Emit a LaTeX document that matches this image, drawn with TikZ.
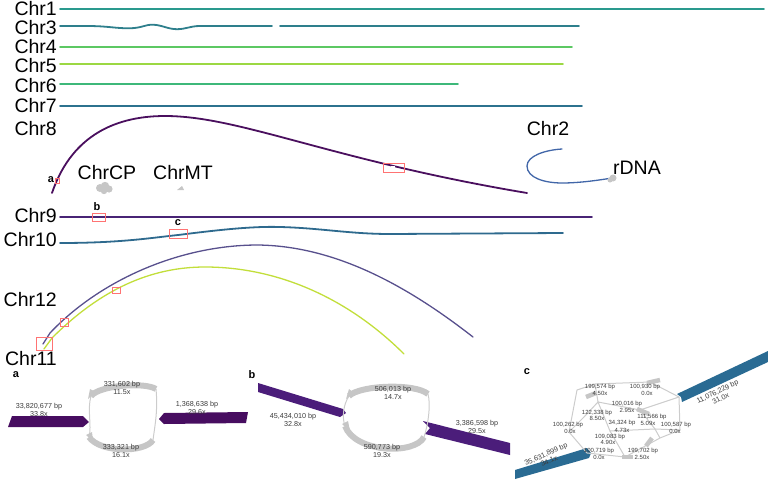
\documentclass[tikz,border=0pt]{standalone}
\usepackage{fontspec}
\setmainfont{Liberation Sans}
\definecolor{cOne}{HTML}{2A9A8E}
\definecolor{cThree}{HTML}{2E7F8C}
\definecolor{cFour}{HTML}{5CC863}
\definecolor{cFive}{HTML}{9CD843}
\definecolor{cSix}{HTML}{3DB87A}
\definecolor{cSeven}{HTML}{2C728E}
\definecolor{cEight}{HTML}{4A0F5E}
\definecolor{cNine}{HTML}{482475}
\definecolor{cTen}{HTML}{2E6A8E}
\definecolor{cTwo}{HTML}{4166A8}
\definecolor{cTwelve}{HTML}{58508D}
\definecolor{cEleven}{HTML}{C2DE3A}
\definecolor{bandA}{HTML}{470D60}
\definecolor{bandB}{HTML}{4B1D7A}
\definecolor{bandC}{HTML}{2A6B93}
\definecolor{gArc}{HTML}{C6C6C6}
\definecolor{gLine}{HTML}{CCCCCC}
\definecolor{infoText}{HTML}{3C3C3C}
\begin{document}
\begin{tikzpicture}[x=1pt,y=-1pt,
  chrlab/.style={anchor=east,inner sep=0pt,font=\fontsize{19.5}{19.5}\selectfont},
  biglab/.style={inner sep=0pt,font=\fontsize{19.5}{19.5}\selectfont},
  chrline/.style={line width=1.8pt,line cap=round},
  thinchr/.style={line width=1.3pt,line cap=round},
  redbox/.style={draw=red!55,line width=0.6pt},
  letter/.style={inner sep=0pt,font=\bfseries\fontsize{11}{11}\selectfont},
  info/.style={inner sep=0pt,align=center,text=infoText,font=\fontsize{7.2}{7.6}\selectfont},
  tinfo/.style={inner sep=0pt,text=infoText,font=\fontsize{6}{6}\selectfont},
  garc/.style={draw=gArc,line width=6pt},
  gstub/.style={draw=gArc,line width=4.5pt},
  gthin/.style={draw=gLine,line width=1pt},
  gblob/.style={fill=gray!45,draw=none}]
\useasboundingbox (0,0) rectangle (768,482);

% ---------- labels ----------
\node[chrlab] (l1) at (57,9) {Chr1};
\node[chrlab] (l3) at (57,28) {Chr3};
\node[chrlab] (l4) at (57,47) {Chr4};
\node[chrlab] (l5) at (57,66) {Chr5};
\node[chrlab] (l6) at (57,86) {Chr6};
\node[chrlab] (l7) at (57,106) {Chr7};
\node[chrlab] (l8) at (57,129) {Chr8};
\node[chrlab] (l9) at (57,216) {Chr9};
\node[chrlab] (l10) at (57,240) {Chr10};
\node[chrlab] (l12) at (57,300) {Chr12};
\node[chrlab] (l11) at (57,359) {Chr11};
\node[biglab] (lcp) at (107,173) {ChrCP};
\node[biglab] (lmt) at (183,173) {ChrMT};
\node[biglab] (l2) at (548,129) {Chr2};
\node[biglab] (lr) at (637,168) {rDNA};

% ---------- chromosome lines ----------
\coordinate (c1a) at (60,9);   \coordinate (c1b) at (764,9);
\draw[chrline,cOne] (c1a) -- (c1b);
\coordinate (c3a) at (60,26);  \coordinate (c3b) at (272,26);
\coordinate (c3c) at (280,26); \coordinate (c3d) at (579,26);
\draw[chrline,cThree] (c3a) -- (87,26) .. controls (108,26) and (116,28.5) .. (130,28.3)
  .. controls (142,28) and (145,24.5) .. (153,24.7) .. controls (162,25) and (168,29.2) .. (177,29.2)
  .. controls (186,29.2) and (190,26) .. (200,26) -- (c3b);
\draw[chrline,cThree] (c3c) -- (c3d);
\coordinate (c4a) at (60,47);  \coordinate (c4b) at (572,47);
\draw[chrline,cFour] (c4a) -- (c4b);
\coordinate (c5a) at (60,64);  \coordinate (c5b) at (563,64);
\draw[chrline,cFive] (c5a) -- (c5b);
\coordinate (c6a) at (60,84);  \coordinate (c6b) at (458,84);
\draw[chrline,cSix] (c6a) -- (c6b);
\coordinate (c7a) at (60,106); \coordinate (c7b) at (582,106);
\draw[chrline,cSeven] (c7a) -- (c7b);
\coordinate (c8a) at (52,193); \coordinate (c8b) at (527,193);
\draw[chrline,cEight] (c8a) .. controls (70,140) and (110,116) .. (165,116)
  .. controls (240,116) and (330,160) .. (c8b);
\coordinate (c9a) at (60,217); \coordinate (c9b) at (592,217);
\draw[chrline,cNine] (c9a) -- (c9b);
\coordinate (c10a) at (60,243); \coordinate (c10b) at (563,233);
\draw[chrline,cTen] (c10a) .. controls (120,243) and (150,238) .. (178,235)
  .. controls (210,231) and (250,226) .. (280,227) .. controls (320,228) and (350,234) .. (390,234) -- (c10b);
\coordinate (c2a) at (562,149); \coordinate (c2b) at (612,178);
\draw[thinchr,cTwo] (c2a) .. controls (545,150) and (527,156) .. (527,166)
  .. controls (527,178) and (545,183) .. (562,183) .. controls (580,183) and (600,180) .. (c2b);
\coordinate (c12a) at (43,344); \coordinate (c12b) at (473,337);
\draw[thinchr,cTwelve] (c12a) -- (50,333) .. controls (100,280) and (180,245) .. (258,245)
  .. controls (330,246) and (400,280) .. (c12b);
\coordinate (c11a) at (44,349); \coordinate (c11b) at (404,354);
\draw[thinchr,cEleven] (c11a) -- (52,338) .. controls (100,290) and (150,267) .. (205,267)
  .. controls (280,267) and (350,300) .. (c11b);

% ---------- blobs ----------
\fill[gblob] (100,188) circle (4) (105,186) circle (4.2) (109,189) circle (3.6) (104,191) circle (3.2);
\fill[gblob] (177,190) -- (182,186) -- (184,190) -- cycle;
\fill[gblob] (613,178) circle (3.5) (610,180) circle (2.5);

% ---------- red boxes & letters ----------
\fill[white] (391,165.5) rectangle (395,169);
\draw[redbox] (383,163) rectangle (404,172);
\draw[redbox] (55,178) rectangle (59,183);
\node[letter] (ta) at (51,180) {a};
\draw[redbox] (92,213) rectangle (105,221);
\node[letter] (tb) at (97,207) {b};
\draw[redbox] (169,229) rectangle (187,238);
\node[letter] (tc) at (178,223) {c};
\draw[redbox] (36,337) rectangle (52,350);
\draw[redbox] (60,318) rectangle (68,326);
\draw[redbox] (112,287) rectangle (120,293);

% ---------- panel a ----------
\node[letter] (pa) at (16,375) {a};
\fill[bandA] (8,427) -- (12,416) -- (83,416) -- (89,422) -- (83,427) -- cycle;
\fill[bandA] (159,419) -- (164,413) -- (248,412) -- (246,423) -- (164,424) -- cycle;
\coordinate (a1) at (91,396); \coordinate (a2) at (156,389);
\coordinate (a3) at (89,437); \coordinate (a4) at (153,440);
\draw[gthin] (a1) .. controls (87,410) and (92,425) .. (a3);
\draw[gthin] (a2) .. controls (158,410) and (155,425) .. (a4);
\draw[garc] (a1) .. controls (100,385) and (145,382) .. (a2);
\draw[garc] (a3) .. controls (100,453) and (145,453) .. (a4);
\fill[gArc] (88,399) -- (90,389) -- (96,392) -- cycle;
\fill[gArc] (86,435) -- (92,432) -- (93,441) -- cycle;
\node[info] (ia1) at (122,388) {331,602 bp\\11.5x};
\node[info] (ia2) at (121,451) {333,321 bp\\16.1x};
\node[info] (ia3) at (39,410) {33,820,677 bp\\33.8x};
\node[info] (ia4) at (197,408) {1,368,638 bp\\29.6x};

% ---------- panel b ----------
\node[letter] (pb) at (252,375) {b};
\fill[bandB] (258,383) -- (343,409) -- (346,413) -- (340,417) -- (258,392) -- cycle;
\fill[bandB] (423,421) -- (510,443) -- (510,455) -- (425,434) -- (430,428) -- cycle;
\coordinate (b1) at (349,396); \coordinate (b2) at (428,394);
\coordinate (b3) at (345,426); \coordinate (b4) at (424,437);
\draw[gthin] (b1) .. controls (343,405) and (342,418) .. (b3);
\draw[gthin] (b2) .. controls (431,405) and (428,425) .. (b4);
\draw[garc] (b1) .. controls (360,385) and (415,383) .. (b2);
\draw[garc] (b3) .. controls (355,453) and (415,455) .. (b4);
\fill[gArc] (346,399) -- (349,389) -- (354,393) -- cycle;
\fill[gArc] (342,424) -- (348,421) -- (350,431) -- cycle;
\node[info] (ib1) at (393,393) {506,013 bp\\14.7x};
\node[info] (ib2) at (382,451) {590,773 bp\\19.3x};
\node[info] (ib3) at (293,420) {45,434,010 bp\\32.8x};
\node[info] (ib4) at (477,427) {3,386,598 bp\\29.5x};

% ---------- panel c ----------
\node[letter] (pc) at (527,372) {c};
\fill[bandC] (677,394) -- (768,351) -- (768,362) -- (682,402) -- (681,397) -- cycle;
\fill[bandC] (515,470) -- (587,448) -- (591,453) -- (589,458) -- (515,479) -- cycle;
\coordinate (j1) at (587,453);
\coordinate (j2) at (569,432);
\coordinate (j3) at (577,390);
\coordinate (j4) at (595,384);
\coordinate (j5) at (650,382);
\coordinate (j6) at (679,397);
\coordinate (j7) at (680,430);
\coordinate (j8) at (660,438);
\coordinate (j9) at (625,457);
\coordinate (k1) at (598,402);
\coordinate (k2) at (640,410);
\coordinate (k3) at (610,431);
\coordinate (k4) at (655,429);
\coordinate (k5) at (584,417);
\draw[gthin] (j1) -- (j2) -- (j3) -- (j4) -- (j5) -- (j6) -- (j7) -- (j8) -- (j9) -- (j1);
\draw[gthin] (j4) -- (k1) -- (k2) -- (k4) -- (j7);
\draw[gthin] (k5) -- (k1) -- (k3) -- (k4) -- (j8);
\draw[gthin] (k5) -- (j2);
\draw[gthin] (k3) -- (j9);
\draw[gthin] (k2) -- (j6);
\draw[gstub] (586,397) -- (596,393);
\draw[gstub] (647,383) -- (660,380);
\draw[gstub] (622,457) -- (633,457);
\draw[gstub] (646,446) -- (652,438);
\draw[gstub] (637,409) -- (649,414);
\node[tinfo] (ic1) at (600,387.3) {199,574 bp};
\node[tinfo] (ic1x) at (600,393.3) {4.50x};
\node[tinfo] (ic2) at (645,387.3) {100,930 bp};
\node[tinfo] (ic2x) at (647,393.3) {0.0x};
\node[tinfo] (ic3) at (627,404) {100,016 bp};
\node[tinfo] (ic3x) at (627,410) {2.95x};
\node[tinfo] (ic4) at (597,412.7) {122,338 bp};
\node[tinfo] (ic4x) at (597,418.5) {8.50x};
\node[tinfo] (ic5) at (652,417.3) {111,566 bp};
\node[tinfo] (ic5x) at (648,423.5) {5.09x};
\node[tinfo] (ic6) at (676,425.3) {100,587 bp};
\node[tinfo] (ic6x) at (675,431.3) {0.0x};
\node[tinfo] (ic7) at (568,425.3) {100,262 bp};
\node[tinfo] (ic7x) at (570,431.3) {0.0x};
\node[tinfo] (ic8) at (622,423.3) {34,324 bp};
\node[tinfo] (ic8x) at (622,430) {4.73x};
\node[tinfo] (ic9) at (610,436.7) {109,083 bp};
\node[tinfo] (ic9x) at (608,442.7) {4.90x};
\node[tinfo] (ic10) at (599,451) {100,719 bp};
\node[tinfo] (ic10x) at (599,457.3) {0.0x};
\node[tinfo] (ic11) at (643,451) {199,702 bp};
\node[tinfo] (ic11x) at (642,457.3) {2.50x};
\node[info,rotate=26] (ic12) at (719,395) {11,076,229 bp\\31.0x};
\node[info,rotate=24] (ic13) at (547.5,457.5) {35,631,899 bp\\34.1x};
\end{tikzpicture}
\end{document}
